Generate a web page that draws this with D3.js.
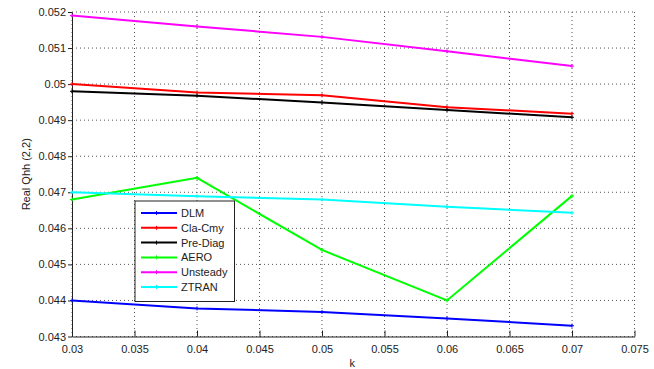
<!DOCTYPE html>
<html>
<head>
<meta charset="utf-8">
<script src="https://cdn.jsdelivr.net/npm/d3@7"></script>
<style>
  html, body { margin: 0; padding: 0; background: #fff; }
  svg { display: block; }
  text { font-family: "Liberation Sans", Arial, sans-serif; font-size: 11px; fill: #222; }
</style>
</head>
<body>
<svg id="chart" width="654" height="369"></svg>
<script>
// Reduced frequency values
const kValues = [0.03, 0.04, 0.05, 0.06, 0.07];

// Real part of Qhh(2,2) for each method
const dlm      = [0.0440, 0.04378, 0.04368, 0.0435, 0.0433];
const claCmy   = [0.0500, 0.04977, 0.04969, 0.04936, 0.04918];
const preDiag  = [0.0498, 0.04968, 0.04949, 0.04928, 0.04908];
const aero     = [0.0468, 0.0474, 0.0454, 0.0440, 0.0469];
const unsteady = [0.0519, 0.0516, 0.05131, 0.05091, 0.0505];
const ztran    = [0.0470, 0.04689, 0.0468, 0.0466, 0.04643];

const seriesNames  = ["DLM", "Cla-Cmy", "Pre-Diag", "AERO", "Unsteady", "ZTRAN"];
const seriesValues = [dlm, claCmy, preDiag, aero, unsteady, ztran];
const seriesColors = ["#0000ff", "#ff0000", "#000000", "#00ff00", "#ff00ff", "#00ffff"];

const xTicks = [0.03, 0.035, 0.04, 0.045, 0.05, 0.055, 0.06, 0.065, 0.07, 0.075];
const yTicks = [0.043, 0.044, 0.045, 0.046, 0.047, 0.048, 0.049, 0.05, 0.051, 0.052];

const svg = d3.select("#chart");
const plotLeft = 72, plotRight = 634.5, plotTop = 12, plotBottom = 336.5;

const x = d3.scaleLinear().domain([0.03, 0.075]).range([plotLeft, plotRight]);
const y = d3.scaleLinear().domain([0.043, 0.052]).range([plotBottom, plotTop]);

// dotted grid
const grid = svg.append("g");
grid.selectAll("line.vg").data(xTicks).join("line")
  .attr("x1", d => x(d)).attr("x2", d => x(d))
  .attr("y1", plotTop).attr("y2", plotBottom)
  .attr("stroke", "#555").attr("stroke-width", 1)
  .attr("stroke-dasharray", "1,3");
grid.selectAll("line.hg").data(yTicks).join("line")
  .attr("x1", plotLeft).attr("x2", plotRight)
  .attr("y1", d => y(d)).attr("y2", d => y(d))
  .attr("stroke", "#555").attr("stroke-width", 1)
  .attr("stroke-dasharray", "1,3");

// axes
const fmt = d => String(+d.toFixed(3));
const xAxis = svg.append("g").attr("transform", `translate(0,${plotBottom})`)
  .call(d3.axisBottom(x).tickValues(xTicks).tickFormat(fmt).tickSizeInner(-6).tickSizeOuter(0).tickPadding(9));
const yAxis = svg.append("g").attr("transform", `translate(${plotLeft},0)`)
  .call(d3.axisLeft(y).tickValues(yTicks).tickFormat(fmt).tickSizeInner(4).tickSizeOuter(0).tickPadding(2));
[xAxis, yAxis].forEach(a => {
  a.select(".domain").attr("stroke", "#222");
  a.selectAll(".tick line").attr("stroke", "#222");
  a.selectAll(".tick text").attr("fill", "#222")
    .style("font-family", '"Liberation Sans", Arial, sans-serif').style("font-size", "11px");
});

// axis titles
svg.append("text").attr("x", (plotLeft + plotRight) / 2 - 1).attr("y", 367)
  .attr("text-anchor", "middle").text("k");
svg.append("text")
  .attr("transform", `translate(30,${(plotTop + plotBottom) / 2}) rotate(-90)`)
  .attr("text-anchor", "middle").text("Real Qhh (2,2)");

// series lines with small point markers
const line = d3.line().x((d, i) => x(kValues[i])).y(d => y(d));
const plot = svg.append("g");
seriesValues.forEach((vals, s) => {
  plot.append("path").datum(vals)
    .attr("d", line)
    .attr("fill", "none")
    .attr("stroke", seriesColors[s])
    .attr("stroke-width", 2);
  plot.selectAll(null).data(vals).join("path")
    .attr("d", (d, i) => {
      const cx = x(kValues[i]), cy = y(d);
      return `M${cx - 2},${cy}H${cx + 2}M${cx},${cy - 2}V${cy + 2}`;
    })
    .attr("stroke", seriesColors[s]).attr("stroke-width", 1);
});

// legend
const lg = svg.append("g").attr("transform", "translate(135,201)");
lg.append("rect").attr("x", 0).attr("y", 0).attr("width", 99.5).attr("height", 100.5)
  .attr("fill", "#fff").attr("stroke", "#222").attr("stroke-width", 1);
seriesNames.forEach((name, s) => {
  const yy = 12 + s * 14.8;
  lg.append("line").attr("x1", 6).attr("x2", 42).attr("y1", yy).attr("y2", yy)
    .attr("stroke", seriesColors[s]).attr("stroke-width", 2);
  lg.append("path").attr("d", `M21.5,${yy - 2}V${yy + 2}M19.5,${yy}H23.5`)
    .attr("stroke", seriesColors[s]).attr("stroke-width", 1);
  lg.append("text").attr("x", 46).attr("y", yy + 4).text(name);
});
</script>
</body>
</html>
